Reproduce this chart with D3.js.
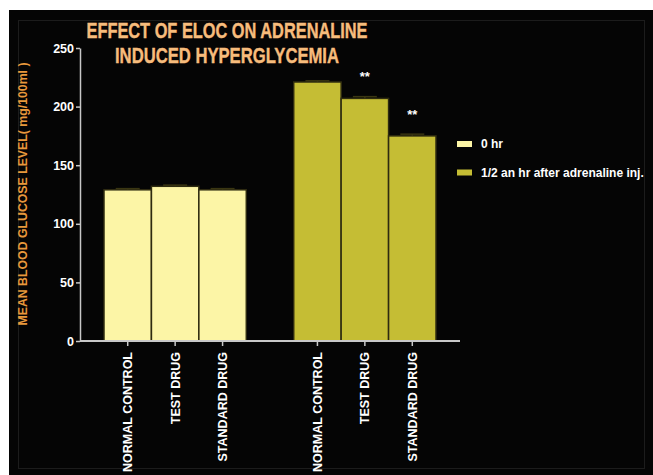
<!DOCTYPE html>
<html>
<head>
<meta charset="utf-8">
<script src="https://cdn.jsdelivr.net/npm/d3@7"></script>
<style>
  body { margin: 0; background: #fff; }
  svg { display: block; font-family: "Liberation Sans", Arial, sans-serif; }
</style>
</head>
<body>
<svg id="chart" width="653" height="475"></svg>
<script>
// Data
const groups = ['0 hr', '1/2 an hr after adrenaline inj.'];
const treatments = ['NORMAL CONTROL', 'TEST DRUG', 'STANDARD DRUG'];
const meanValues = [
    [129, 132, 129],   // 0 hr
    [221, 207, 175]    // 1/2 hr after adrenaline
];
const semValues = [
    [1, 1, 1],
    [1, 1.5, 1.5]
];
const significance = [
    ['', '', ''],
    ['', '**', '**']
];
const yTicks = [0, 50, 100, 150, 200, 250];
const colors = ['#fcf5a6', '#c5bd34'];

const svg = d3.select('#chart');

// Black panel with faint inner frame
svg.append('rect').attr('x', 9).attr('y', 10).attr('width', 644).attr('height', 465).attr('fill', '#050505');
svg.append('rect').attr('x', 18.5).attr('y', 20.5).attr('width', 626).attr('height', 448)
    .attr('fill', 'none').attr('stroke', '#1c1c1c');

// Flatten into bars, with an empty slot between the two groups
const bars = [];
const slots = [];
groups.forEach((g, gi) => {
    if (gi > 0) slots.push('gap' + gi);
    treatments.forEach((t, ti) => {
        const key = gi + '-' + ti;
        slots.push(key);
        bars.push({ key, group: gi, treatment: t, value: meanValues[gi][ti], sem: semValues[gi][ti], sig: significance[gi][ti] });
    });
});

const x = d3.scaleBand().domain(slots).range([104, 436]).padding(0);
const y = d3.scaleLinear().domain([0, 250]).range([341, 48]);

// Bars
svg.selectAll('.bar')
    .data(bars)
    .enter()
    .append('rect')
    .attr('class', 'bar')
    .attr('x', d => x(d.key))
    .attr('y', d => y(d.value))
    .attr('width', x.bandwidth())
    .attr('height', d => y(0) - y(d.value))
    .attr('fill', d => colors[d.group])
    .attr('stroke', '#2e2b10')
    .attr('stroke-width', 1.5);

// Error bars (upper)
const err = svg.append('g').attr('stroke', '#3a3612').attr('stroke-width', 1.5);
bars.forEach(d => {
    const cx = x(d.key) + x.bandwidth() / 2;
    err.append('line').attr('x1', cx).attr('x2', cx).attr('y1', y(d.value)).attr('y2', y(d.value + d.sem));
    err.append('line').attr('x1', cx - 12).attr('x2', cx + 12).attr('y1', y(d.value + d.sem)).attr('y2', y(d.value + d.sem));
});

// Significance stars
svg.selectAll('.sig')
    .data(bars.filter(d => d.sig))
    .enter()
    .append('text')
    .attr('class', 'sig')
    .attr('x', d => x(d.key) + x.bandwidth() / 2)
    .attr('y', d => y(d.value) - 17)
    .attr('text-anchor', 'middle')
    .attr('fill', '#fff')
    .style('font-size', '13px')
    .style('font-weight', 'bold')
    .text(d => d.sig);

// Y axis
const yAxis = svg.append('g')
    .attr('transform', 'translate(80,0)')
    .call(d3.axisLeft(y).tickValues(yTicks).tickSize(4).tickSizeOuter(0).tickPadding(2));
yAxis.select('.domain').attr('stroke', '#c8c8c8').attr('stroke-width', 1.5);
yAxis.selectAll('.tick line').attr('stroke', '#c8c8c8').attr('stroke-width', 1.5);
yAxis.selectAll('.tick text').attr('fill', '#fff').style('font-size', '12.5px').style('font-weight', 'bold')
    .style('font-family', '"Liberation Sans", Arial, sans-serif');

// X axis
const xTicks = bars.map(d => d.key);
const xAxis = svg.append('g')
    .attr('transform', 'translate(0,341)')
    .call(d3.axisBottom(x).tickValues(xTicks).tickSize(5).tickSizeOuter(0).tickFormat(k => bars.find(b => b.key === k).treatment));
xAxis.select('.domain').remove();
xAxis.append('line').attr('x1', 80).attr('x2', 460).attr('y1', 0).attr('y2', 0)
    .attr('stroke', '#c8c8c8').attr('stroke-width', 2);
xAxis.selectAll('.tick line').attr('stroke', '#c8c8c8').attr('stroke-width', 1.5);
xAxis.selectAll('.tick text')
    .attr('fill', '#fff')
    .attr('transform', 'rotate(-90)')
    .attr('text-anchor', 'end')
    .attr('x', -11)
    .attr('y', 0)
    .attr('dy', '0.35em')
    .style('font-size', '12.5px')
    .style('font-weight', 'bold')
    .style('font-family', '"Liberation Sans", Arial, sans-serif');

// Y axis title
svg.append('text')
    .attr('transform', 'translate(27,194) rotate(-90)')
    .attr('text-anchor', 'middle')
    .attr('fill', '#e8983c')
    .attr('textLength', 263)
    .attr('lengthAdjust', 'spacingAndGlyphs')
    .style('font-size', '12.5px')
    .style('font-weight', 'bold')
    .text('MEAN BLOOD GLUCOSE LEVEL( mg/100ml )');

// Title
const titleLines = [
    { text: 'EFFECT OF ELOC ON ADRENALINE', y: 38, w: 281 },
    { text: 'INDUCED HYPERGLYCEMIA', y: 63, w: 224 }
];
svg.selectAll('.title')
    .data(titleLines)
    .enter()
    .append('text')
    .attr('class', 'title')
    .attr('x', 227)
    .attr('y', d => d.y)
    .attr('text-anchor', 'middle')
    .attr('fill', '#f7bc7c')
    .attr('stroke', '#f7bc7c')
    .attr('stroke-width', 0.4)
    .attr('textLength', d => d.w)
    .attr('lengthAdjust', 'spacingAndGlyphs')
    .style('font-size', '22px')
    .style('font-weight', 'bold')
    .text(d => d.text);

// Legend
const legend = svg.selectAll('.legend')
    .data(groups)
    .enter()
    .append('g')
    .attr('class', 'legend')
    .attr('transform', (d, i) => `translate(457,${141 + i * 28.5})`);
legend.append('rect').attr('width', 15).attr('height', 6).attr('fill', (d, i) => colors[i]);
legend.append('text')
    .attr('x', 24)
    .attr('y', 3)
    .attr('dy', '0.35em')
    .attr('fill', '#fff')
    .style('font-size', '12px')
    .style('font-weight', 'bold')
    .text(d => d);
</script>
</body>
</html>
